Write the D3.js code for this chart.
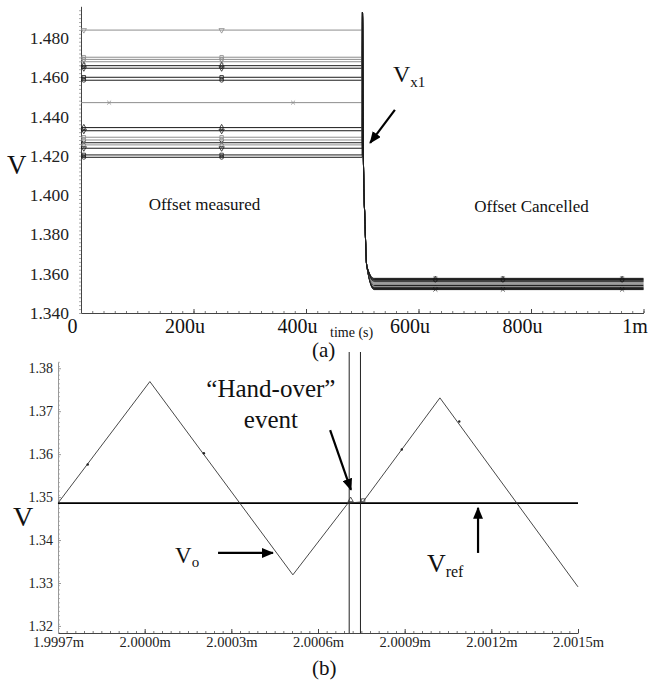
<!DOCTYPE html>
<html>
<head>
<meta charset="utf-8">
<script src="https://cdn.jsdelivr.net/npm/d3@7"></script>
<style>
  body { margin: 0; background: #fff; }
</style>
</head>
<body>
<div id="chart"></div>
<script>
var serif = "'Liberation Serif', 'DejaVu Serif', serif";

// ---- chart (a): offset measured / cancelled ----
var topTicks = [0, 200, 400, 600, 800, 1000];               // time in u(s)
var topTickLabels = ["0", "200u", "400u", "600u", "800u", "1m"];
var topYTicks = [1.34, 1.36, 1.38, 1.40, 1.42, 1.44, 1.46, 1.48];
var startValues = [1.4839, 1.4701, 1.4690, 1.4678, 1.4658, 1.4645, 1.4599, 1.4584, 1.4470,
                   1.4343, 1.4327, 1.4294, 1.4280, 1.4266, 1.4255, 1.4238, 1.4204, 1.4192];
var endValues = [1.3565, 1.3577, 1.3548, 1.3560, 1.3575, 1.3528, 1.3540, 1.3522, 1.3552,
                 1.3570, 1.3532, 1.3545, 1.3556, 1.3519, 1.3535, 1.3562, 1.3525, 1.3568];
var lineShade = ["g", "g", "g", "g", "k", "k", "k", "k", "g", "k", "k", "g", "g", "k", "g", "k", "k", "k"];
var switchTime = 500;
var spike = [[500.4, 1.493], [502, 1.420], [505, 1.385], [508, 1.364]];   // common fall after the switch
var settleTime = 521;
var startMarkerTimes = [5, 250];
var oddMarkerTimes = [50, 377];     // used by the 1.447 trace
var endMarkerTimes = [630, 750, 962];

// ---- chart (b): hand-over ----
var bTicks = [1.9997, 2.0000, 2.0003, 2.0006, 2.0009, 2.0012, 2.0015];   // ms
var bYTicks = [1.32, 1.33, 1.34, 1.35, 1.36, 1.37, 1.38];
var rampT = [1.9997, 2.000018, 2.000513, 2.000704, 2.000756, 2.001022, 2.0015];
var rampV = [1.3486, 1.3769, 1.3319, 1.3486, 1.3489, 1.3731, 1.3291];
var dotT = [1.999803, 2.000205, 2.000890, 2.001089];
var dotV = [1.3576, 1.3602, 1.3611, 1.3676];
var vref = 1.3486;
var handoverT = [2.000708, 2.000747];

var svg = d3.select("#chart").append("svg")
  .attr("width", 657).attr("height", 684)
  .attr("font-family", serif);

var defs = svg.append("defs");
defs.append("marker")
  .attr("id", "head")
  .attr("viewBox", "0 0 12 10")
  .attr("refX", 11).attr("refY", 5)
  .attr("markerWidth", 12).attr("markerHeight", 10)
  .attr("markerUnits", "userSpaceOnUse")
  .attr("orient", "auto")
  .append("path").attr("d", "M0,0L12,5L0,10z").attr("fill", "#000");

function arrow(g, x1, y1, x2, y2) {
  g.append("line")
    .attr("x1", x1).attr("y1", y1).attr("x2", x2).attr("y2", y2)
    .attr("stroke", "#000").attr("stroke-width", 2.2)
    .attr("marker-end", "url(#head)");
}

function label(g, x, y, size, txt) {
  return g.append("text").attr("x", x).attr("y", y)
    .attr("font-size", size).style("font-family", serif).attr("fill", "#111").text(txt);
}

/* ================= (a) ================= */
var xA = d3.scaleLinear().domain([0, 1000]).range([81, 643.5]);
var yA = d3.scaleLinear().domain([1.34, 1.496]).range([313, 6.3]);

var gA = svg.append("g");

// minor ticks
gA.append("g").attr("transform", "translate(0,313)")
  .call(d3.axisBottom(xA).tickValues(d3.range(0, 1001, 20)).tickSizeInner(-2).tickSizeOuter(0).tickFormat(""))
  .call(g => g.select(".domain").remove())
  .selectAll("line").attr("stroke", "#777");
gA.append("g").attr("transform", "translate(81,0)")
  .call(d3.axisLeft(yA).tickValues(d3.range(1.34, 1.4955, 0.002)).tickSizeInner(2).tickSizeOuter(0).tickFormat(""))
  .call(g => g.select(".domain").remove())
  .selectAll("line").attr("stroke", "#aaa");

var xAxisA = gA.append("g").attr("transform", "translate(0,313)")
  .call(d3.axisBottom(xA).tickValues(topTicks).tickSizeInner(-4).tickSizeOuter(0).tickPadding(6)
    .tickFormat((d, i) => topTickLabels[i]));
xAxisA.attr("font-family", serif);
xAxisA.select(".domain").attr("stroke", "#444");
xAxisA.selectAll("line").attr("stroke", "#444");
xAxisA.selectAll("text").attr("font-size", 20).attr("dx", -9)
  .style("font-family", serif).attr("fill", "#111");

var yAxisA = gA.append("g").attr("transform", "translate(81,0)")
  .call(d3.axisLeft(yA).tickValues(topYTicks).tickSizeInner(0).tickSizeOuter(0).tickPadding(12)
    .tickFormat(d3.format(".3f")));
yAxisA.attr("font-family", serif);
yAxisA.select(".domain").attr("stroke", "#444");
yAxisA.selectAll("text").attr("font-size", 17.5)
  .style("font-family", serif).attr("fill", "#222");

var lineA = d3.line().x(d => xA(d[0])).y(d => yA(d[1])).curve(d3.curveMonotoneX);
var symbolTypes = [d3.symbolTriangle, d3.symbolSquare, d3.symbolCircle, d3.symbolTimes, d3.symbolDiamond];

startValues.forEach(function (v0, i) {
  var f = endValues[i];
  var pts = [[0, v0], [switchTime, v0]].concat(spike, [[settleTime, f], [1000, f]]);
  var col = lineShade[i] == "g" ? "#8d8d8d" : "#1a1a1a";
  gA.append("path").datum(pts)
    .attr("d", lineA).attr("fill", "none")
    .attr("stroke", col).attr("stroke-width", 1);

  var mt = i == 8 ? oddMarkerTimes : startMarkerTimes;
  var sym = d3.symbol().type(symbolTypes[i % symbolTypes.length]).size(12);
  mt.forEach(function (t) {
    gA.append("path").attr("d", sym())
      .attr("transform", "translate(" + xA(t) + "," + yA(v0) + ")" + (i % 5 == 0 ? " rotate(180)" : ""))
      .attr("fill", "none").attr("stroke", col).attr("stroke-width", 0.8);
  });
  if (i % 4 == 1) {
    endMarkerTimes.forEach(function (t) {
      gA.append("path").attr("d", sym())
        .attr("transform", "translate(" + xA(t) + "," + yA(f) + ")")
        .attr("fill", "none").attr("stroke", col).attr("stroke-width", 0.7);
    });
  }
});

// labels (a)
label(gA, 7, 174, 27, "V");
label(gA, xA(554.7), yA(1.4575), 24, "V")
  .append("tspan").attr("font-size", 15).attr("dy", 5).text("x1");
arrow(gA, xA(558), yA(1.4433), xA(514), yA(1.4265));
label(gA, xA(219.6), yA(1.3924), 17, "Offset measured").attr("text-anchor", "middle");
label(gA, xA(800.9), yA(1.3915), 17, "Offset Cancelled").attr("text-anchor", "middle");
label(gA, 330, 337, 14, "time (s)");
label(gA, 312, 357, 21, "(a)");

/* ================= (b) ================= */
var xB = d3.scaleLinear().domain([1.9997, 2.0015]).range([58, 578]);
var yB = d3.scaleLinear().domain([1.35 - 135.9 / 4295, 1.35 + 135.1 / 4295]).range([633, 362]);

var gB = svg.append("g");

gB.append("g").attr("transform", "translate(0,633)")
  .call(d3.axisBottom(xB).tickValues(d3.range(0, 61).map(k => 1.9997 + k * 0.00003)).tickSizeInner(-2).tickSizeOuter(0).tickFormat(""))
  .call(g => g.select(".domain").remove())
  .selectAll("line").attr("stroke", "#777");
gB.append("g").attr("transform", "translate(58,0)")
  .call(d3.axisLeft(yB).tickValues(d3.range(0, 64).map(k => 1.3185 + k * 0.001)).tickSizeInner(-2).tickSizeOuter(0).tickFormat(""))
  .call(g => g.select(".domain").remove())
  .selectAll("line").attr("stroke", "#bbb");

var xAxisB = gB.append("g").attr("transform", "translate(0,633)")
  .call(d3.axisBottom(xB).tickValues(bTicks).tickSizeInner(-4).tickSizeOuter(0).tickPadding(4)
    .tickFormat(d => d3.format(".4f")(d) + "m"));
xAxisB.attr("font-family", serif);
xAxisB.select(".domain").attr("stroke", "#444");
xAxisB.selectAll("line").attr("stroke", "#444");
xAxisB.selectAll("text").attr("font-size", 14.5)
  .style("font-family", serif).attr("fill", "#222");

var yAxisB = gB.append("g").attr("transform", "translate(58,0)")
  .call(d3.axisLeft(yB).tickValues(bYTicks).tickSizeInner(-3).tickSizeOuter(0).tickPadding(5)
    .tickFormat(d3.format(".2f")));
yAxisB.attr("font-family", serif);
yAxisB.select(".domain").attr("stroke", "#999");
yAxisB.selectAll("line").attr("stroke", "#999");
yAxisB.selectAll("text").attr("font-size", 14)
  .style("font-family", serif).attr("fill", "#222");

// Vref
gB.append("line")
  .attr("x1", xB(1.9997)).attr("x2", xB(2.0015))
  .attr("y1", yB(vref)).attr("y2", yB(vref))
  .attr("stroke", "#000").attr("stroke-width", 1.6);

// hand-over cursors
handoverT.forEach(function (t) {
  gB.append("line")
    .attr("x1", xB(t)).attr("x2", xB(t))
    .attr("y1", 352).attr("y2", yB.range()[0])
    .attr("stroke", "#222").attr("stroke-width", 1);
});

var lineB = d3.line().x((d, i) => xB(rampT[i])).y(d => yB(d));
gB.append("path").datum(rampV)
  .attr("d", lineB).attr("fill", "none")
  .attr("stroke", "#333").attr("stroke-width", 0.9);

dotT.forEach(function (t, i) {
  gB.append("circle").attr("cx", xB(t)).attr("cy", yB(dotV[i])).attr("r", 1.2).attr("fill", "#222");
});
gB.append("path").attr("d", d3.symbol().type(d3.symbolTriangle).size(12)())
  .attr("transform", "translate(" + xB(2.000713) + "," + yB(1.3493) + ")")
  .attr("fill", "none").attr("stroke", "#333").attr("stroke-width", 0.8);
gB.append("path").attr("d", d3.symbol().type(d3.symbolSquare).size(12)())
  .attr("transform", "translate(" + xB(2.000756) + "," + yB(1.3492) + ")")
  .attr("fill", "none").attr("stroke", "#333").attr("stroke-width", 0.8);

// labels (b)
label(gB, 13, 526, 28, "V");
label(gB, xB(2.000437), yB(1.3733), 25, "\u201CHand-over\u201D").attr("text-anchor", "middle");
label(gB, xB(2.000437), yB(1.3661), 25, "event").attr("text-anchor", "middle");
arrow(gB, xB(2.000642), yB(1.3656), xB(2.000714), yB(1.3517));

label(gB, xB(2.000105), yB(1.3347), 23, "V")
  .append("tspan").attr("font-size", 15).attr("dy", 4).text("o");
arrow(gB, xB(2.000254), yB(1.3370), xB(2.000444), yB(1.3370));

label(gB, xB(2.000977), yB(1.3326), 26, "V")
  .append("tspan").attr("font-size", 16).attr("dy", 5).text("ref");
arrow(gB, xB(2.001154), yB(1.3370), xB(2.001154), yB(1.3475));

label(gB, 312, 675, 21, "(b)");
</script>
</body>
</html>
